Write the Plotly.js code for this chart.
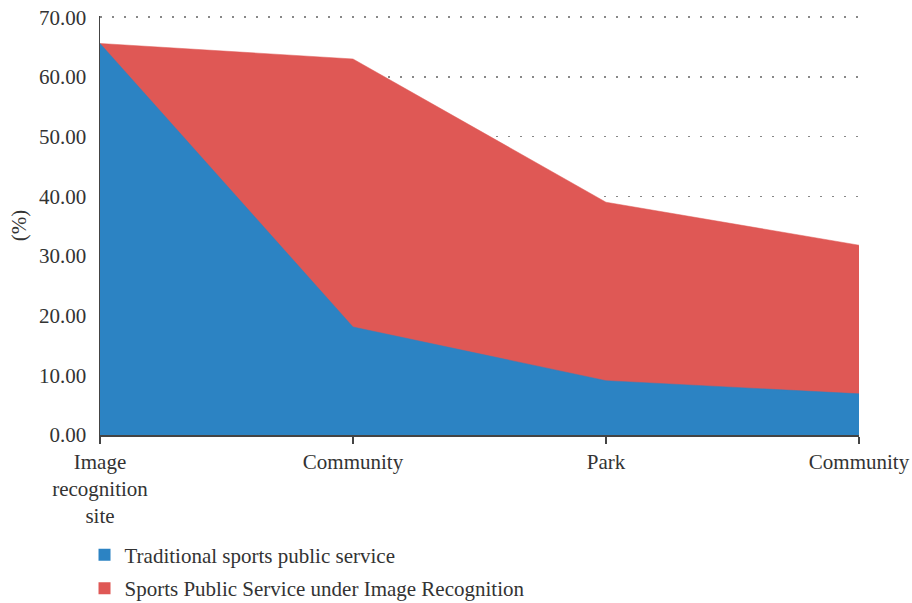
<!DOCTYPE html>
<html>
<head>
<meta charset="utf-8">
<script src="https://cdn.plot.ly/plotly-3.0.1.min.js"></script>
<style>html,body{margin:0;padding:0;background:#fff;}#chart{width:912px;height:603px;}</style>
</head>
<body>
<div id="chart"></div>
<script>
var categories = ["Image<br>recognition<br>site", "Community", "Park", "Community"];
var positions = [0, 1, 2, 3];
var traditional = [65.6, 18.1, 9.1, 6.9];
var imageRecognition = [65.6, 63.0, 39.0, 31.8];
var seriesNames = ["Traditional sports public service", "Sports Public Service under Image Recognition"];
var seriesColors = ["#2c83c3", "#df5855"];

var font = {family: "Liberation Serif, DejaVu Serif, serif", size: 21, color: "#333"};

var traces = [
  {x: positions, y: imageRecognition, name: seriesNames[1], type: "scatter", mode: "lines",
   fill: "tozeroy", fillcolor: seriesColors[1], line: {color: seriesColors[1], width: 0.5}, showlegend: false},
  {x: positions, y: traditional, name: seriesNames[0], type: "scatter", mode: "lines",
   fill: "tozeroy", fillcolor: seriesColors[0], line: {color: seriesColors[0], width: 0.5}, showlegend: false},
  {x: [null], y: [null], name: seriesNames[0], type: "scatter", mode: "markers", legendgroup: "a",
   marker: {symbol: "square", size: 12, color: seriesColors[0]}},
  {x: [null], y: [null], name: seriesNames[1], type: "scatter", mode: "markers", legendgroup: "b",
   marker: {symbol: "square", size: 12, color: seriesColors[1]}}
];

var layout = {
  width: 912, height: 603,
  margin: {l: 100, r: 53, t: 16, b: 168, autoexpand: false},
  paper_bgcolor: "#fff", plot_bgcolor: "#fff",
  font: font,
  showlegend: true,
  legend: {x: -0.0204, y: -0.238, xanchor: "left", yanchor: "top",
           font: font, tracegroupgap: 3, itemwidth: 30},
  xaxis: {range: [0, 3], tickvals: positions, ticktext: categories, showgrid: false, automargin: false,
          zeroline: false, showline: true, linecolor: "#444", linewidth: 1.5,
          ticks: "outside", ticklen: 7, tickcolor: "#444", tickwidth: 1.5, tickfont: font,
          fixedrange: true},
  yaxis: {range: [0, 70.2], tickvals: [0, 10, 20, 30, 40, 50, 60, 70], tickformat: ".2f", showgrid: true, gridcolor: "#888", automargin: false,
          griddash: "2px,10px", gridwidth: 1.5, zeroline: false, showline: true, linecolor: "#444",
          linewidth: 1.5, ticks: "", tickfont: font, ticklabelstandoff: 8,
          title: {text: "(%)", font: font, standoff: 6}}
};

Plotly.newPlot("chart", traces, layout, {displayModeBar: false, staticPlot: true});
</script>
</body>
</html>
